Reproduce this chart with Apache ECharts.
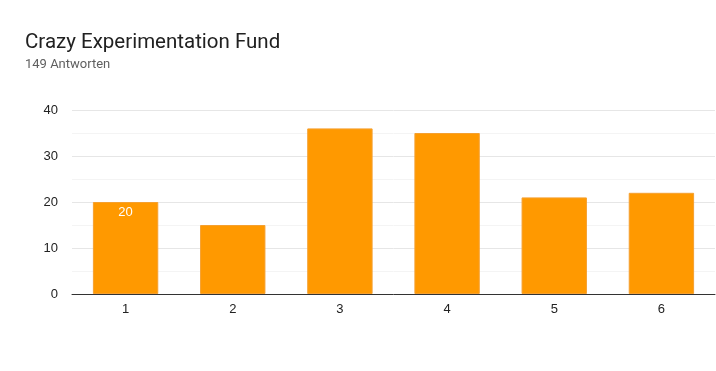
<!DOCTYPE html>
<html><head><meta charset="utf-8">
<script src="https://cdn.jsdelivr.net/npm/echarts@6/dist/echarts.min.js"></script>
<style>html,body{margin:0;padding:0;background:#fff}#c{width:716px;height:371px}</style>
</head><body><div id="c"></div>
<script>
const categories = ['1','2','3','4','5','6'];
const values = [20, 15, 36, 35, 21, 22];
const labelShown = [true, false, false, false, false, false];
const titleText = 'Crazy Experimentation Fund';
const subtitleText = '149 Antworten';

const chart = echarts.init(document.getElementById('c'));
chart.setOption({
  animation: false,
  title: {
    text: titleText, subtext: subtitleText, left: 20, top: 27, itemGap: 5,
    textStyle: {fontFamily: 'Roboto', fontSize: 20.5, fontWeight: 'normal', color: '#212121'},
    subtextStyle: {fontFamily: 'Roboto', fontSize: 13, color: '#5f5f5f'}
  },
  grid: {left: 72, right: 1, top: 110, bottom: 77},
  xAxis: {
    type: 'category', data: categories,
    axisLine: {lineStyle: {color: '#333', width: 1}},
    axisTick: {show: false},
    axisLabel: {color: '#222', fontFamily: 'Liberation Sans', fontSize: 13, margin: 9}
  },
  yAxis: {
    type: 'value', min: 0, max: 40, interval: 10,
    axisLine: {show: false}, axisTick: {show: false},
    axisLabel: {color: '#222', fontFamily: 'Liberation Sans', fontSize: 13, margin: 14},
    splitLine: {lineStyle: {color: '#e6e6e6'}},
    minorTick: {show: false, splitNumber: 2},
    minorSplitLine: {show: true, lineStyle: {color: '#f4f4f4'}}
  },
  series: [{
    type: 'bar', barWidth: '61%',
    data: values.map((v, i) => ({
      value: v,
      label: {show: labelShown[i], position: 'insideTop', distance: 4, color: '#fff',
        fontFamily: 'Liberation Sans', fontSize: 13}
    })),
    itemStyle: {color: '#ff9900', borderColor: '#f5a030', borderWidth: 1}
  }]
});
</script></body></html>
